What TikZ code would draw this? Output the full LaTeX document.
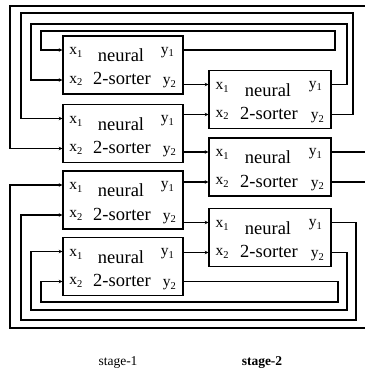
\documentclass[tikz,border=0pt]{standalone}
\usepackage{fontspec}
\setmainfont{Liberation Serif}
\usetikzlibrary{arrows.meta}
\newcommand\pv[2]{{\fontsize{15.5}{15.5}\selectfont #1}\raisebox{-2.5pt}{\fontsize{10.5}{10.5}\selectfont #2}}
\newcommand\mksorter[4]{%
  \node[sbox,minimum width=#4] (#1) at (#2,#3) {};
  \node[lab,anchor=base west] (#1-lx1) at ([shift={(7,10)}]#1.west) {\pv{x}{1}};
  \node[lab,anchor=base west] (#1-lx2) at ([shift={(7,-18)}]#1.west) {\pv{x}{2}};
  \node[lab,anchor=base west] (#1-ly1) at ([shift={(-23,11)}]#1.east) {\pv{y}{1}};
  \node[lab,anchor=base west] (#1-ly2) at ([shift={(-21,-20)}]#1.east) {\pv{y}{2}};
  \node[biglab,anchor=base] (#1-t1) at ([shift={(-2,3)}]#1.center) {neural};
  \node[biglab,anchor=base] (#1-t2) at ([shift={(-1,-20)}]#1.center) {2-sorter};
  \coordinate (#1x1) at ([yshift=15]#1.west);
  \coordinate (#1x2) at ([yshift=-15]#1.west);
  \coordinate (#1y1) at ([yshift=15]#1.east);
  \coordinate (#1y2) at ([yshift=-15]#1.east);
}
\begin{document}
\begin{tikzpicture}[x=1pt,y=1pt,
  sbox/.style={draw,line width=1.4pt,minimum height=58pt,inner sep=0pt},
  lab/.style={inner sep=0pt},
  biglab/.style={inner sep=0pt,font=\fontsize{18.5}{18.5}\selectfont},
  wire/.style={line width=1.3pt},
  inarrow/.style={wire,-{Stealth[length=3.5pt,width=3.5pt]}},
  stagelab/.style={inner sep=0pt,font=\fontsize{13.5}{13.5}\selectfont}]
\useasboundingbox (0,0) rectangle (365,376);
% stage-1 boxes
\mksorter{A1}{123}{311}{120}
\mksorter{A2}{123}{242.5}{120}
\mksorter{A3}{123}{176}{120}
\mksorter{A4}{123}{109.5}{120}
% stage-2 boxes
\mksorter{B1}{270}{276.5}{122}
\mksorter{B2}{270}{209}{122}
\mksorter{B3}{270}{138.5}{122}
% free ends at the right edge
\coordinate (Etop) at (365,370);
\coordinate (Ebot) at (365,48);
\coordinate (EB2a) at (365,0);
% stage-1 to stage-2
\draw[inarrow] (B1x1 -| A1.east) -- (B1x1);
\draw[inarrow] (B1x2 -| A2.east) -- (B1x2);
\draw[inarrow] (B2x1 -| A2.east) -- (B2x1);
\draw[inarrow] (B2x2 -| A3.east) -- (B2x2);
\draw[inarrow] (B3x1 -| A3.east) -- (B3x1);
\draw[inarrow] (B3x2 -| A4.east) -- (B3x2);
% stage-2 outputs leaving on the right
\draw[wire] (B2y1) -- (B2y1 -| EB2a);
\draw[wire] (B2y2) -- (B2y2 -| EB2a);
% top feedback loops
\draw[inarrow] (Etop) -- (10,370) |- (A2x2);
\draw[inarrow] (B1y2) -| (353,363) -- (21,363) |- (A2x1);
\draw[inarrow] (B1y1) -| (347,352) -- (31,352) |- (A1x2);
\draw[inarrow] (A1y1) -| (335,345) -- (41,345) |- (A1x1);
% bottom feedback loops
\draw[inarrow] (Ebot) -- (10,48) |- (A3x1);
\draw[inarrow] (B3y1) -| (356,56) -- (21,56) |- (A3x2);
\draw[inarrow] (B3y2) -| (347,66) -- (31,66) |- (A4x1);
\draw[inarrow] (A4y2) -| (338,74) -- (41,74) |- (A4x2);
% stage labels
\node[stagelab] (s1) at (118,13) {stage-1};
\node[stagelab,font=\fontsize{13.5}{13.5}\selectfont\bfseries] (s2) at (262,13) {stage-2};
\end{tikzpicture}
\end{document}
